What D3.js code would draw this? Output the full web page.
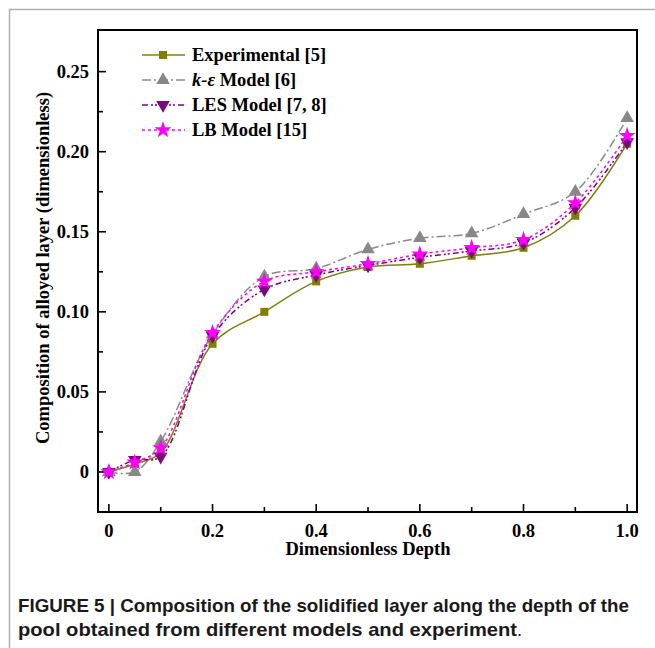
<!DOCTYPE html>
<html lang="en">
<head>
<meta charset="utf-8">
<title>Composition of alloyed layer</title>
<script src="https://cdn.jsdelivr.net/npm/d3@7"></script>
<style>
  body { margin: 0; background: #fff; }
  svg { display: block; }
</style>
</head>
<body>
<script>
// data
var depth = [0, 0.05, 0.1, 0.2, 0.3, 0.4, 0.5, 0.6, 0.7, 0.8, 0.9, 1.0];
var experimental = [0, 0.005, 0.012, 0.080, 0.100, 0.119, 0.128, 0.130, 0.135, 0.140, 0.160, 0.205];
var kEpsilon = [0, 0.000, 0.019, 0.086, 0.122, 0.127, 0.139, 0.146, 0.149, 0.161, 0.175, 0.221];
var les = [0, 0.0075, 0.0095, 0.085, 0.114, 0.123, 0.129, 0.134, 0.138, 0.143, 0.165, 0.206];
var lb = [0, 0.006, 0.015, 0.087, 0.119, 0.125, 0.130, 0.136, 0.140, 0.145, 0.168, 0.210];
var seriesNames = ["Experimental [5]", "Model [6]", "LES Model [7, 8]", "LB Model [15]"];
var xTicks = [0, 0.2, 0.4, 0.6, 0.8, 1.0];
var yTicks = [0, 0.05, 0.10, 0.15, 0.20, 0.25];

var W = 655, H = 648;
var pLeft = 98, pRight = 637, pTop = 30, pBottom = 512;

var svg = d3.select("body").append("svg").attr("width", W).attr("height", H);

// figure box (left and top border only)
svg.append("path").attr("d", "M9.5,648V9.5H655")
   .attr("fill", "none").attr("stroke", "#b0b0b0").attr("stroke-width", 1.5);

var x = d3.scaleLinear().domain([-0.021, 1.019]).range([pLeft, pRight]);
var y = d3.scaleLinear().domain([-0.025, 0.276]).range([pBottom, pTop]);

var serif = "'Liberation Serif', 'Times New Roman', serif";
var fs = 18.5;

// ticks (inward)
var g = svg.append("g");
d3.range(0, 1.01, 0.1).forEach(function(t, i) {
  var major = i % 2 === 0;
  g.append("line").attr("x1", x(t)).attr("x2", x(t))
   .attr("y1", pBottom).attr("y2", pBottom - (major ? 8 : 5))
   .attr("stroke", "#000").attr("stroke-width", 1.6);
});
d3.range(-0.025, 0.27, 0.025).forEach(function(t, i) {
  var major = i % 2 === 1;
  g.append("line").attr("x1", pLeft).attr("x2", pLeft + (major ? 8 : 5))
   .attr("y1", y(t)).attr("y2", y(t))
   .attr("stroke", "#000").attr("stroke-width", 1.6);
});

g.selectAll(".xl").data(xTicks).enter().append("text")
 .attr("x", function(d) { return x(d); }).attr("y", 537)
 .attr("text-anchor", "middle").attr("font-family", serif)
 .attr("font-weight", "bold").attr("font-size", fs)
 .text(function(d) { return d === 0 ? "0" : d.toFixed(1); });

g.selectAll(".yl").data(yTicks).enter().append("text")
 .attr("x", 89).attr("y", function(d) { return y(d) + 6; })
 .attr("text-anchor", "end").attr("font-family", serif)
 .attr("font-weight", "bold").attr("font-size", fs)
 .text(function(d) { return d === 0 ? "0" : d.toFixed(2); });

svg.append("text").attr("x", 368).attr("y", 555)
   .attr("text-anchor", "middle").attr("font-family", serif)
   .attr("font-weight", "bold").attr("font-size", fs)
   .text("Dimensionless Depth");

svg.append("text").attr("transform", "translate(49,268) rotate(-90)")
   .attr("text-anchor", "middle").attr("font-family", serif)
   .attr("font-weight", "bold").attr("font-size", fs)
   .text("Composition of alloyed layer (dimensionless)");

// series
var series = [
  { name: seriesNames[0], values: experimental, color: "#7f7f10", mcolor: "#808000", dash: null, sym: d3.symbolSquare, size: 64, rot: 0 },
  { name: seriesNames[1], values: kEpsilon, color: "#8a8a8a", mcolor: "#888888", dash: "9,3,2,3", sym: d3.symbolTriangle, size: 80, rot: 0 },
  { name: seriesNames[2], values: les, color: "#800080", mcolor: "#7a0a7a", dash: "6,3,2,2,2,3", sym: d3.symbolTriangle, size: 80, rot: 180 },
  { name: seriesNames[3], values: lb, color: "#ff00ff", mcolor: "#ff00ff", dash: "3,3", sym: d3.symbolStar, size: 90, rot: 0 }
];

var line = d3.line()
  .x(function(d, i) { return x(depth[i]); })
  .y(function(d) { return y(d); })
  .curve(d3.curveCatmullRom.alpha(0.5));

var plot = svg.append("g");
series.forEach(function(s) {
  plot.append("path").datum(s.values)
      .attr("d", line).attr("fill", "none")
      .attr("stroke", s.color).attr("stroke-width", 1.5)
      .attr("stroke-dasharray", s.dash);
});
series.forEach(function(s) {
  plot.selectAll(null).data(s.values).enter().append("path")
      .attr("d", d3.symbol().type(s.sym).size(s.size))
      .attr("transform", function(d, i) {
        return "translate(" + x(depth[i]) + "," + y(d) + ") rotate(" + s.rot + ")";
      })
      .attr("fill", s.mcolor);
});

// frame
svg.append("rect").attr("x", pLeft).attr("y", pTop)
   .attr("width", pRight - pLeft).attr("height", pBottom - pTop)
   .attr("fill", "none").attr("stroke", "#000").attr("stroke-width", 2);

// legend
var leg = svg.append("g");
series.forEach(function(s, i) {
  var ly = 55 + i * 25;
  leg.append("line").attr("x1", 142).attr("x2", 185).attr("y1", ly).attr("y2", ly)
     .attr("stroke", s.color).attr("stroke-width", 1.5).attr("stroke-dasharray", s.dash);
  leg.append("path").attr("d", d3.symbol().type(s.sym).size(s.size))
     .attr("transform", "translate(163," + ly + ") rotate(" + s.rot + ")")
     .attr("fill", s.mcolor);
  var t = leg.append("text").attr("x", 192).attr("y", ly + 6)
     .attr("font-family", serif).attr("font-weight", "bold").attr("font-size", fs);
  if (i === 1) {
    t.append("tspan").attr("font-style", "italic").text("k-ε");
    t.append("tspan").text(" " + s.name);
  } else {
    t.text(s.name);
  }
});

// caption
var cap = svg.append("g").attr("font-family", "'Liberation Sans', Arial, sans-serif")
   .attr("font-size", 18.5).attr("fill", "#1a1a1a");
cap.append("text").attr("x", 18).attr("y", 612).attr("font-weight", "bold")
   .attr("textLength", 611).attr("lengthAdjust", "spacingAndGlyphs")
   .text("FIGURE 5 | Composition of the solidified layer along the depth of the");
var c2 = cap.append("text").attr("x", 18).attr("y", 636);
c2.append("tspan").attr("font-weight", "bold")
  .attr("textLength", 499).attr("lengthAdjust", "spacingAndGlyphs")
  .text("pool obtained from different models and experiment");
c2.append("tspan").text(".");
</script>
</body>
</html>
